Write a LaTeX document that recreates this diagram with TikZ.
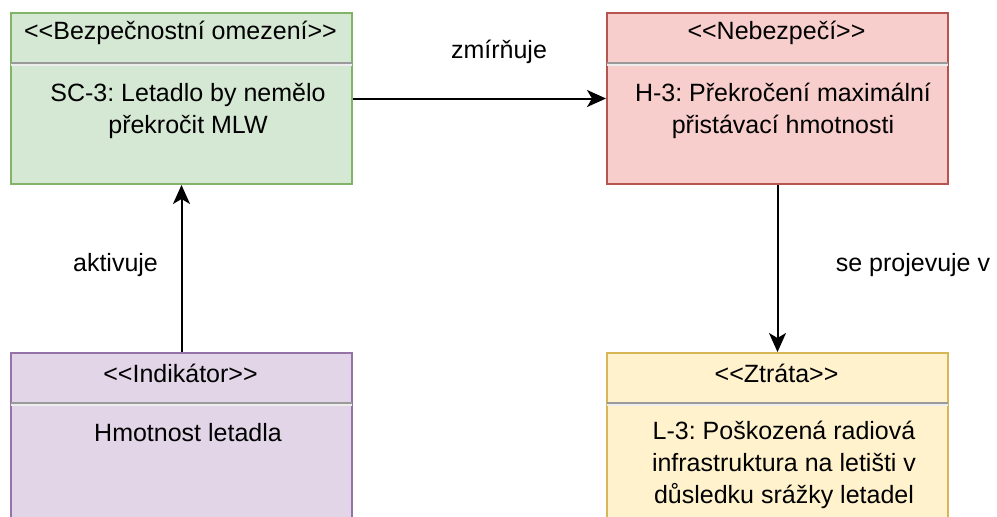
\documentclass[tikz,border=0pt]{standalone}
\usepackage{fontspec}
\setmainfont{Liberation Sans}
\usetikzlibrary{arrows.meta,calc}
\frenchspacing
\definecolor{gfill}{HTML}{D5E8D4}\definecolor{gline}{HTML}{82B366}
\definecolor{rfill}{HTML}{F8CECC}\definecolor{rline}{HTML}{B85450}
\definecolor{pfill}{HTML}{E1D5E7}\definecolor{pline}{HTML}{9673A6}
\definecolor{yfill}{HTML}{FFF2CC}\definecolor{yline}{HTML}{D6B656}
\definecolor{sepdark}{HTML}{9A9A9A}\definecolor{seplight}{HTML}{EDEDED}
\newcommand{\stereo}[1]{{<}{<}#1{>}{>}}
\tikzset{
  umlbox/.style={rectangle, line width=2pt, inner sep=0pt, minimum width=341pt, anchor=north west},
  txt/.style={font=\fontsize{25}{32}\selectfont, align=center, inner sep=0pt, text=black},
  arr/.style={line width=2pt, -{Stealth[length=19pt,width=17pt,inset=5pt]}},
  sepd/.style={line width=1.6pt, sepdark},
  sepl/.style={line width=1.6pt, seplight}
}
\begin{document}
\begin{tikzpicture}[x=1pt,y=-1pt]
\useasboundingbox (0,0) rectangle (997,517);
\clip (0,0) rectangle (997,517);

% class boxes
\node[umlbox, fill=gfill, draw=gline, minimum height=171pt] (sc) at (10,12) {};
\node[umlbox, fill=rfill, draw=rline, minimum height=171pt] (haz) at (606,12) {};
\node[umlbox, fill=pfill, draw=pline, minimum height=200pt] (ind) at (10,352) {};
\node[umlbox, fill=yfill, draw=yline, minimum height=200pt] (loss) at (606,352) {};

% compartment separators
\foreach \b in {sc,haz,ind,loss}{
  \draw[sepd] ($(\b.north west)+(1,51)$) -- ($(\b.north east)+(-1,51)$);
  \draw[sepl] ($(\b.north west)+(1,53)$) -- ($(\b.north east)+(-1,53)$);
}

% headers
\node[txt] (schead) at (180.5,33) {\stereo{Bezpečnostní omezení}};
\node[txt] (hazhead) at (776.5,33) {\stereo{Nebezpečí}};
\node[txt] (indhead) at (180.5,373) {\stereo{Indikátor}};
\node[txt] (losshead) at (776.5,373) {\stereo{Ztráta}};

% bodies
\node[txt] (scbody) at (188,111) {SC-3: Letadlo by nemělo\\překročit MLW};
\node[txt] (hazbody) at (783,111) {H-3: Překročení maximální\\přistávací hmotnosti};
\node[txt] (indbody) at (188,433) {Hmotnost letadla};
\node[txt] (lossbody) at (784,465) {L-3: Poškozená radiová\\infrastruktura na letišti v\\důsledku srážky letadel};

% relations
\draw[arr] (sc.east) -- (haz.west);
\draw[arr] (ind.north) -- (sc.south);
\draw[arr] (haz.south) -- (loss.north);

\node[txt] (l1) at (499,52) {zmírňuje};
\node[txt] (l2) at (115.5,265) {aktivuje};
\node[txt] (l3) at (913,265) {se projevuje v};
\end{tikzpicture}
\end{document}
